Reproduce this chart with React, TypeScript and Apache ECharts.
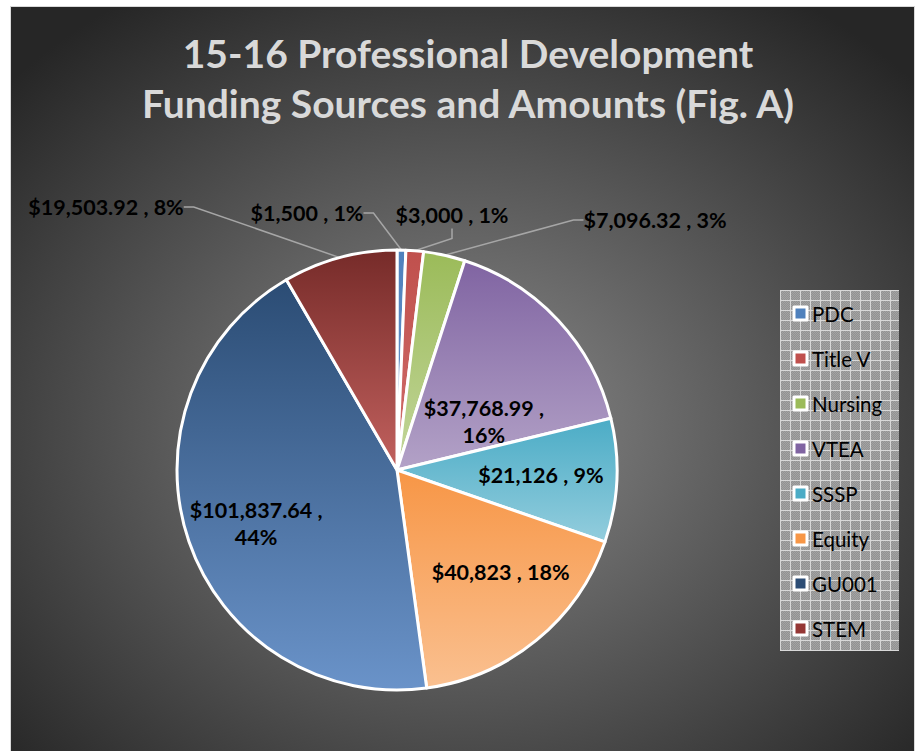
import React, { useEffect, useRef } from "react";
import * as echarts from "echarts";

// ---- data ----
const categories = ["PDC", "Title V", "Nursing", "VTEA", "SSSP", "Equity", "GU001", "STEM"];
const amounts = [1500, 3000, 7096.32, 37768.99, 21126, 40823, 101837.64, 19503.92];
const amountLabels = ["$1,500", "$3,000", "$7,096.32", "$37,768.99", "$21,126", "$40,823", "$101,837.64", "$19,503.92"];
const percentLabels = ["1%", "1%", "3%", "16%", "9%", "18%", "44%", "8%"];

// ---- styles ----
const topColors = ["#4F81BD", "#C0504D", "#9BBB59", "#8064A2", "#4BACC6", "#F79646", "#2B4C74", "#762B29"];
const bottomColors = ["#6A94CB", "#D06E6B", "#C3D69B", "#B3A2C7", "#93CDDD", "#FAC090", "#6A93C9", "#C2615E"];
const legendColors = ["#4F81BD", "#C0504D", "#9BBB59", "#8064A2", "#4BACC6", "#F79646", "#2C4D75", "#953735"];
const labelPlacement = ["outside", "outside", "outside", "inside", "inside", "inside", "inside", "outside"];
const labelBreak = [false, false, false, true, false, false, true, false];
const outsideLabelAt: Record<number, [number, number]> = { 0: [307, 213], 1: [452, 215], 2: [655, 220], 7: [106, 207] };
const insideLabelShift: Record<number, [number, number]> = { 3: [4, 28], 4: [31, 0], 5: [32, 15], 6: [-34, 17] };

const FONT = "Lato, 'Open Sans', sans-serif";

function makePattern(): HTMLCanvasElement {
  const c = document.createElement("canvas");
  c.width = 10;
  c.height = 10;
  const ctx = c.getContext("2d")!;
  for (let y = 0; y < 10; y++) {
    for (let x = 0; x < 10; x++) {
      ctx.fillStyle = (x + y) % 2 === 0 ? "#a3a3a3" : "#929292";
      ctx.fillRect(x, y, 1, 1);
    }
  }
  ctx.fillStyle = "#d8d8d8";
  ctx.fillRect(0, 0, 10, 1);
  ctx.fillRect(0, 0, 1, 10);
  return c;
}

export default function App() {
  const ref = useRef<HTMLDivElement>(null);
  useEffect(() => {
    if (!ref.current) return;
    const chart = echarts.init(ref.current, null, { renderer: "svg" });
    const pattern = makePattern();
    const data = categories.map((name, i) => {
      const outside = labelPlacement[i] === "outside";
      return {
        name,
        value: amounts[i],
        itemStyle: {
          color: new echarts.graphic.LinearGradient(0, 0, 0, 1, [
            { offset: 0, color: topColors[i] },
            { offset: 1, color: bottomColors[i] },
          ]),
        },
        label: {
          position: outside ? "outside" : "inside",
        },
        labelLine: { show: outside },
      };
    });
    chart.setOption({
      animation: false,
      graphic: [
        {
          type: "rect",
          z: -10,
          shape: { x: 10.5, y: 6.5, width: 904, height: 750 },
          style: {
            fill: new echarts.graphic.RadialGradient(0.5, 0.56, 0.68, [
              { offset: 0, color: "#8a8a8a" },
              { offset: 1, color: "#262626" },
            ]),
            stroke: "#d9d9d9",
            lineWidth: 1,
          },
        },
        {
          type: "rect",
          z: -5,
          shape: { x: 780, y: 290, width: 119, height: 361 },
          style: { fill: { image: pattern, repeat: "repeat" } as any },
        },
      ],
      title: {
        text: "15-16 Professional Development\nFunding Sources and Amounts (Fig. A)",
        left: 463,
        top: 23,
        textAlign: "center",
        textStyle: {
          fontFamily: FONT,
          fontSize: 39,
          fontWeight: "bold",
          color: "#d9d9d9",
          lineHeight: 50,
        },
      },
      legend: {
        orient: "vertical",
        left: 792.5,
        top: 303,
        itemWidth: 13,
        itemHeight: 13,
        itemGap: 24,
        icon: "rect",
        padding: 0,
        textStyle: { fontFamily: FONT, fontSize: 20.5, color: "#000", lineHeight: 20 },
        data: categories.map((c, i) => ({
          name: c,
          itemStyle: { color: legendColors[i], borderColor: "#fff", borderWidth: 3 },
        })),
      },
      series: [
        {
          type: "pie",
          center: [397, 470],
          radius: 220,
          startAngle: 90,
          clockwise: true,
          avoidLabelOverlap: false,
          itemStyle: { borderColor: "#fff", borderWidth: 3 },
          label: {
            fontFamily: FONT,
            fontSize: 21.5,
            fontWeight: "bold",
            color: "#000",
            lineHeight: 27,
            formatter: (p: any) => {
              const i = p.dataIndex;
              return amountLabels[i] + " ," + (labelBreak[i] ? "\n" : " ") + percentLabels[i];
            },
          },
          labelLine: {
            show: true,
            lineStyle: { color: "#a6a6a6", width: 1.5 },
            length: 20,
            length2: 10,
          },
          labelLayout: (params: any) => {
            const i = params.dataIndex;
            if (outsideLabelAt[i]) {
              return {
                x: outsideLabelAt[i][0],
                y: outsideLabelAt[i][1],
                align: "center",
                verticalAlign: "middle",
              };
            }
            const s = insideLabelShift[i] || [0, 0];
            return { dx: s[0], dy: s[1] };
          },
          emphasis: { disabled: true },
          data,
        },
      ],
    });
    return () => chart.dispose();
  }, []);
  return (
    <div
      ref={ref}
      style={{ position: "absolute", left: 0, top: 0, width: 919, height: 751, background: "#fff" }}
    />
  );
}
